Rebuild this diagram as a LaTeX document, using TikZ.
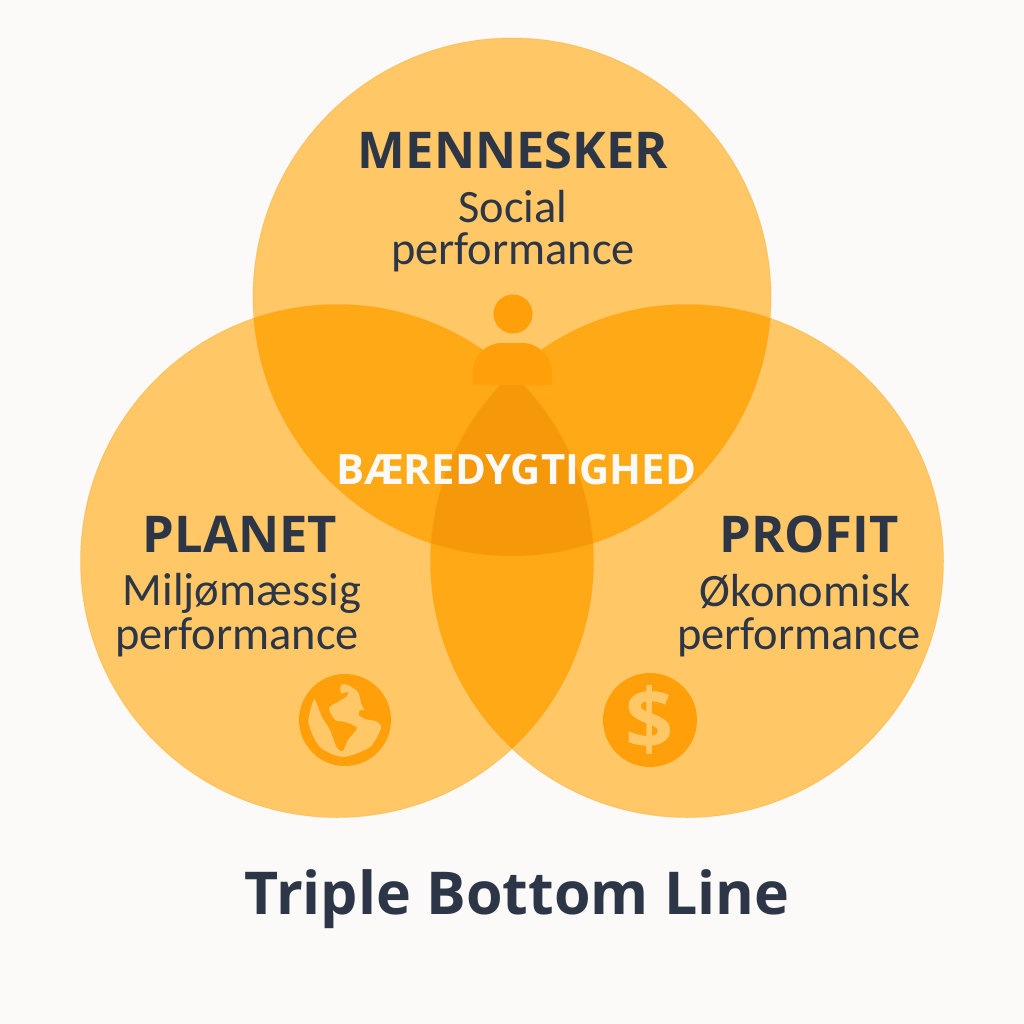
\documentclass[tikz,border=0pt]{standalone}
\usepackage{fontspec}
\setmainfont{Carlito}
\newfontfamily\hf{Open Sans}
\definecolor{bgc}{HTML}{FBFAF8}
\definecolor{one}{HTML}{FFC766}
\definecolor{two}{HTML}{FFA917}
\definecolor{three}{HTML}{F5990B}
\definecolor{icon}{HTML}{FF9F0A}
\definecolor{ink}{HTML}{2C3647}
\newcommand{\fs}[1]{\fontsize{#1}{#1}\selectfont}
\tikzset{
  every picture/.style={x=0.01cm,y=-0.01cm},
  head/.style={text=ink,font=\hf\fs{14.4}\bfseries,inner sep=0},
  sub/.style={text=ink,font=\fs{13.2},inner sep=0},
  edge/.style={draw=icon,draw opacity=0.3,line width=0.25pt}
}
\begin{document}
\begin{tikzpicture}
\path[use as bounding box,fill=bgc] (0,0) rectangle (1024,1024);
\def\T{(512,297) circle [radius=259]}
\def\L{(337,561) circle [radius=256.5]}
\def\R{(687,561) circle [radius=256.5]}
\fill[one] \T; \fill[one] \L; \fill[one] \R;
\begin{scope}\clip \T; \fill[two] \L; \fill[two] \R; \end{scope}
\begin{scope}\clip \L; \fill[two] \R; \end{scope}
\begin{scope}\clip \T; \clip \L; \fill[three] \R; \end{scope}
\draw[edge] \T; \draw[edge] \L; \draw[edge] \R;
% person
\fill[icon] (513,314) circle [radius=19.5];
\fill[icon] (473,385) -- (473,372) arc [start angle=180,end angle=270,radius=29] -- (522,343) arc [start angle=270,end angle=360,radius=30] -- (552,385) -- cycle;
% globe
\fill[icon] (345,720) circle [radius=46];
\fill[one] plot[smooth cycle,tension=0.45] coordinates {(313.5,700) (308.5,723) (320,747) (343,757) (370,747) (381,728) (376.5,721.5) (365,719) (358.7,715) (360,710) (364,710) (361,703) (358,692) (348,685) (341,685) (341,693) (348,692) (347,696) (338,702) (329,708) (335,720) (345,722) (357,728) (348,740) (343,751) (337,748) (330,730) (322,717) (316,702)};
% dollar
\fill[icon] (650,720) circle [radius=47];
\node[text=one,font=\hf\fs{24}\bfseries,inner sep=0] (dollar) at (650,720) {\$};
% text
\node[head] (men) at (513,150) {MENNESKER};
\node[sub] (soc) at (513,207) {Social};
\node[sub] (sp) at (513,252) {performance};
\node[text=bgc,font=\hf\fs{11.9}\bfseries,inner sep=0] (bae) at (516,470) {BÆREDYGTIGHED};
\node[head] (pla) at (240,534) {PLANET};
\node[sub] (mil) at (242,593) {Miljømæssig};
\node[sub] (pp) at (237,637) {performance};
\node[head] (pro) at (809,534) {PROFIT};
\node[sub] (oko) at (805,592) {Økonomisk};
\node[sub] (op) at (799,637) {performance};
\node[text=ink,font=\hf\fs{16.8}\bfseries,inner sep=0] (title) at (517,899) {Triple Bottom Line};
\end{tikzpicture}
\end{document}
